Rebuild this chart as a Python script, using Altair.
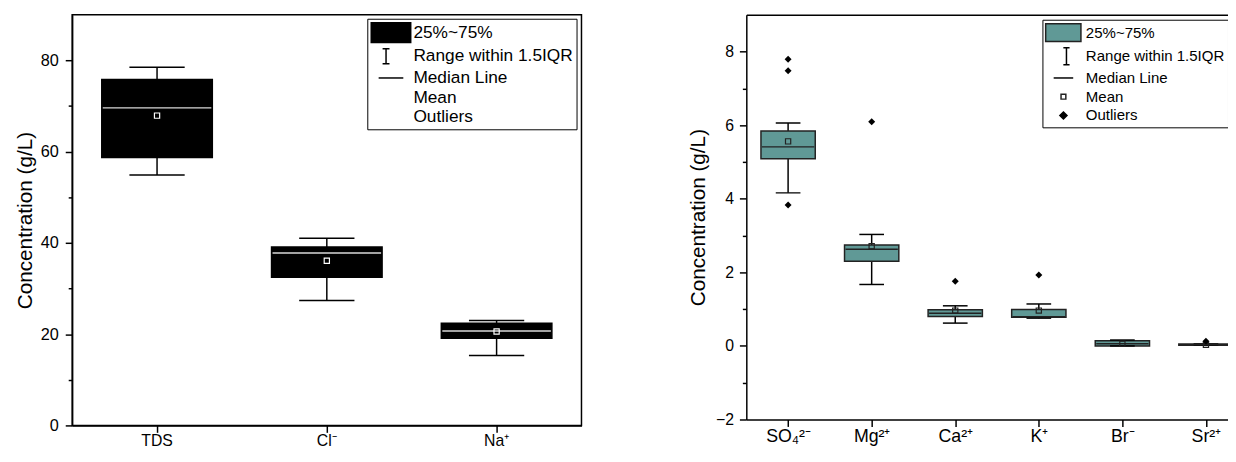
import json
import altair as alt
import pandas as pd

# ---------------- data ----------------
left_cats = ["TDS", "Cl⁻", "Na⁺"]
left_lo = [54.9, 27.4, 15.3]
left_q1 = [58.7, 32.5, 19.1]
left_med = [69.6, 37.8, 20.7]
left_q3 = [75.8, 39.1, 22.4]
left_hi = [78.5, 41.0, 23.0]
left_mean = [67.9, 36.1, 20.6]

right_cats = ["SO₄²⁻", "Mg²⁺", "Ca²⁺", "K⁺", "Br⁻", "Sr²⁺"]
right_lo = [4.16, 1.67, 0.62, 0.755, 0.0, 0.02]
right_q1 = [5.09, 2.30, 0.80, 0.78, 0.0, 0.02]
right_med = [5.41, 2.63, 0.89, 0.79, 0.06, 0.03]
right_q3 = [5.84, 2.74, 0.98, 0.99, 0.14, 0.05]
right_hi = [6.06, 3.03, 1.09, 1.14, 0.16, 0.05]
right_mean = [5.56, 2.71, 0.96, 0.96, 0.06, 0.03]

out_cats = ["SO₄²⁻", "SO₄²⁻", "SO₄²⁻", "Mg²⁺", "Ca²⁺", "K⁺", "Sr²⁺"]
out_vals = [7.79, 7.48, 3.83, 6.09, 1.76, 1.93, 0.13]

legend_items = ["25%~75%", "Range within 1.5IQR", "Median Line", "Mean", "Outliers"]

TEAL = "#609996"
FONT = "Liberation Sans"
YTITLE = "Concentration (g/L)"


def legend_shapes(sx0, sx1, sh, cx, icx, ih, lh):
    return [
        f"M{sx0},-{sh}H{sx1}V{sh}H{sx0}Z",
        f"M{icx - 0.35},-{ih}H{icx + 0.35}M{icx},-{ih}V{ih}M{icx - 0.35},{ih}H{icx + 0.35}",
        f"M{cx - lh},0H{cx + lh}",
        f"M{cx - 0.27},-0.27H{cx + 0.27}V0.27H{cx - 0.27}Z",
        f"M{cx},-0.4L{cx + 0.4},0L{cx},0.4L{cx - 0.4},0Z",
    ]


def make_legend(leg_x, leg_y, leg_font, sym_size, lab_off, shapes, fills, strokes):
    ldf = pd.DataFrame({"item": legend_items})
    leg = alt.Legend(title=None, orient="none", legendX=leg_x, legendY=leg_y,
                     symbolSize=sym_size, symbolStrokeWidth=1.5, symbolOpacity=1,
                     labelFontSize=leg_font, labelFont=FONT, labelColor="black",
                     labelLimit=400, labelOffset=lab_off, rowPadding=0,
                     padding=3, strokeColor="black", fillColor="white")
    return alt.Chart(ldf).mark_point(filled=True, opacity=0).encode(
        shape=alt.Shape("item:N", sort=legend_items,
                        scale=alt.Scale(domain=legend_items, range=shapes),
                        legend=leg),
        fill=alt.Fill("item:N", sort=legend_items,
                      scale=alt.Scale(domain=legend_items, range=fills),
                      legend=leg),
        stroke=alt.Stroke("item:N", sort=legend_items,
                          scale=alt.Scale(domain=legend_items, range=strokes),
                          legend=leg),
    )


def y_axis(yvals, major, yfont, lab_pad, title_pad):
    return alt.Axis(values=yvals,
                    labelExpr=f"datum.value % {major} == 0 ? datum.label : ''",
                    tickSize={"condition": {"test": f"datum.value % {major} != 0",
                                            "value": 4}, "value": 7},
                    labelPadding=lab_pad, labelFontSize=yfont,
                    titleFontSize=21, titlePadding=title_pad)


# ---------------- left panel (band scale, full frame) ----------------
ldf_box = pd.DataFrame({"cat": left_cats, "lo": left_lo, "q1": left_q1,
                        "med": left_med, "q3": left_q3, "hi": left_hi,
                        "mean": left_mean})
l_xscale = alt.Scale(domain=left_cats, paddingInner=0, paddingOuter=0)
l_xaxis = alt.Axis(labelAngle=0, tickSize=7, labelPadding=0, labelFontSize=16,
                   title=None)
l_yscale = alt.Scale(domain=[0, 90], nice=False, zero=False)
l_yaxis = y_axis(list(range(0, 81, 10)), 20, 16.5, 7, 5)


def LX():
    return alt.X("cat:N", scale=l_xscale, axis=l_xaxis, sort=left_cats)


def LY(f):
    return alt.Y(f"{f}:Q", scale=l_yscale, axis=l_yaxis, title=YTITLE)


lb = alt.Chart(ldf_box)
left = alt.layer(
    lb.mark_rule(color="black", strokeWidth=1.5).encode(x=LX(), y=LY("lo"), y2="hi:Q"),
    lb.mark_bar(size=112, color="black", stroke="black", strokeWidth=1.5,
                opacity=1).encode(x=LX(), y=LY("q1"), y2="q3:Q"),
    lb.mark_tick(size=56, thickness=1.5, color="black", opacity=1).encode(x=LX(), y=LY("lo")),
    lb.mark_tick(size=56, thickness=1.5, color="black", opacity=1).encode(x=LX(), y=LY("hi")),
    lb.mark_tick(size=110, thickness=1.5, color="#d8d8d8", opacity=1).encode(x=LX(), y=LY("med")),
    lb.mark_point(shape="square", size=28, filled=False, color="white",
                  strokeWidth=1.2, opacity=1).encode(x=LX(), y=LY("mean")),
    make_legend(299, 4, 17.5, 400, 21.7,
                legend_shapes(-1, 3, 1, 1, 0.5, 0.75, 1.25),
                ["black", "transparent", "transparent", "transparent", "transparent"],
                ["black", "black", "black", "white", "white"]),
).properties(width=516, height=416)

# ---------------- right panel (runs past the page edge, as in the reference) ----------------
R_W = 508
rdf_box = pd.DataFrame({"i": list(range(len(right_cats))), "lo": right_lo,
                        "q1": right_q1, "med": right_med, "q3": right_q3,
                        "hi": right_hi, "mean": right_mean})
odf = pd.DataFrame({"i": [right_cats.index(c) for c in out_cats], "v": out_vals})

r_xscale = alt.Scale(domain=[-0.5, len(right_cats) - 0.5], nice=False, zero=False,
                     padding=0)
r_xaxis = alt.Axis(values=list(range(len(right_cats))), tickSize=7, labelPadding=1,
                   labelFontSize=18, labelAngle=0, title=None, grid=False,
                   labelExpr=f"{json.dumps(right_cats, ensure_ascii=False)}[datum.value]")
r_topaxis = alt.Axis(orient="top", labels=False, ticks=False, domain=True,
                     title=None, grid=False)
r_yscale = alt.Scale(domain=[-2, 9], nice=False, zero=False, padding=0)
r_yaxis = y_axis(list(range(-2, 9)), 2, 16, 6, 7)


def RX(axis=None):
    if axis is None:
        return alt.X("i:Q", scale=r_xscale, axis=None)
    return alt.X("i:Q", scale=r_xscale, axis=axis)


def RY(f):
    return alt.Y(f"{f}:Q", scale=r_yscale, axis=r_yaxis, title=YTITLE)


rb = alt.Chart(rdf_box)
right = alt.layer(
    rb.mark_rule(color="black", strokeWidth=1.5).encode(x=RX(r_xaxis), y=RY("lo"), y2="hi:Q"),
    rb.mark_bar(width=55, color=TEAL, stroke="#222222", strokeWidth=1.5,
                opacity=1).encode(x=RX(), y=RY("q1"), y2="q3:Q"),
    rb.mark_tick(orient="horizontal", size=25, thickness=1.5, color="black",
                 opacity=1).encode(x=RX(), y=RY("lo")),
    rb.mark_tick(orient="horizontal", size=25, thickness=1.5, color="black",
                 opacity=1).encode(x=RX(), y=RY("hi")),
    rb.mark_tick(orient="horizontal", size=53, thickness=1.5, color="#222222",
                 opacity=1).encode(x=RX(), y=RY("med")),
    rb.mark_point(shape="square", size=28, filled=False, color="#222222",
                  strokeWidth=1.2, opacity=1).encode(x=RX(), y=RY("mean")),
    alt.Chart(odf).mark_point(shape="diamond", size=50, filled=True, color="black",
                              opacity=1).encode(x=RX(r_topaxis), y=RY("v")),
    make_legend(300, 5, 15.2, 324, 21,
                legend_shapes(-1.08, 2.89, 1, 0.92, 1.26, 0.95, 1.1),
                [TEAL, "transparent", "transparent", "white", "black"],
                ["#222222", "black", "black", "#222222", "black"]),
).resolve_axis(x="independent").properties(
    width=R_W, height=410, view=alt.ViewBackground(stroke="transparent"))

# negative right padding crops the drawing at the window edge, like the reference
chart = alt.hconcat(left, right, spacing=106).resolve_scale(
    x="independent", y="independent", shape="independent",
    fill="independent", stroke="independent"
).resolve_legend(shape="independent", fill="independent", stroke="independent"
).properties(
    padding={"left": 5, "top": 3, "right": -21, "bottom": -3}
).configure_view(
    stroke="black", strokeWidth=1.5
).configure_axis(
    domainColor="black", domainWidth=1.5, tickColor="black", tickWidth=1.5,
    labelColor="black", titleColor="black", labelFont=FONT, titleFont=FONT,
    titleFontWeight="normal", grid=False
)

chart.save("out.html", embed_options={"renderer": "svg", "actions": False})
